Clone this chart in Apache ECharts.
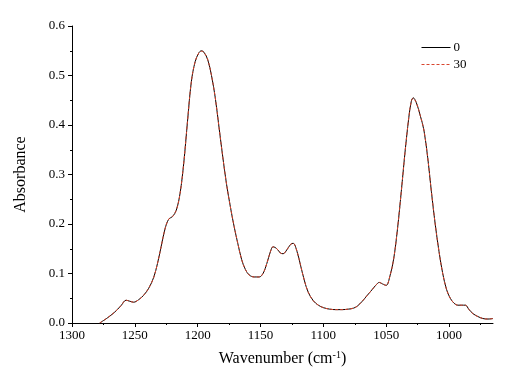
<!DOCTYPE html>
<html>
<head>
<meta charset="utf-8">
<script src="https://cdn.jsdelivr.net/npm/echarts@6/dist/echarts.min.js"></script>
<style>
  html, body { margin: 0; padding: 0; background: #fff; }
  #chart { width: 531px; height: 377px; }
</style>
</head>
<body>
<div id="chart"></div>
<script>
// wavenumber (cm-1)
const wavenumbers = [
  1278, 1272, 1266, 1261, 1257, 1254, 1251, 1247, 1243, 1239,
  1235, 1232, 1229, 1226, 1223, 1220, 1217, 1214, 1211, 1208,
  1205, 1202, 1199, 1197, 1195, 1192, 1189, 1186, 1183, 1180,
  1177, 1174, 1171, 1168, 1165, 1162, 1159, 1155, 1151, 1148,
  1145, 1142, 1140, 1137, 1134, 1132, 1129, 1126, 1124, 1121,
  1118, 1115, 1112, 1108, 1104, 1100, 1095, 1090, 1085, 1080,
  1076, 1073, 1069, 1065, 1061, 1058, 1055.5, 1053, 1050, 1047,
  1044, 1041, 1038, 1035, 1032, 1030, 1028.5, 1026, 1023, 1020,
  1017, 1014, 1011, 1008, 1005, 1002, 999, 996, 993, 990,
  987, 984, 981, 977, 973, 969, 965
];
const abs0 = [
  0.000, 0.010, 0.022, 0.035, 0.046, 0.044, 0.042, 0.047, 0.056, 0.070,
  0.092, 0.120, 0.155, 0.190, 0.210, 0.215, 0.228, 0.262, 0.325, 0.410,
  0.488, 0.528, 0.546, 0.550, 0.547, 0.532, 0.500, 0.455, 0.395, 0.335,
  0.280, 0.235, 0.195, 0.160, 0.128, 0.108, 0.097, 0.093, 0.093, 0.100,
  0.120, 0.145, 0.154, 0.150, 0.141, 0.140, 0.148, 0.159, 0.161, 0.145,
  0.115, 0.085, 0.062, 0.045, 0.036, 0.031, 0.028, 0.027, 0.027, 0.028,
  0.030, 0.034, 0.044, 0.056, 0.068, 0.077, 0.082, 0.079, 0.076, 0.095,
  0.130, 0.190, 0.265, 0.345, 0.415, 0.448, 0.455, 0.445, 0.420, 0.390,
  0.335, 0.265, 0.200, 0.145, 0.100, 0.068, 0.050, 0.040, 0.036, 0.036,
  0.036, 0.027, 0.019, 0.013, 0.009, 0.008, 0.009
];
const abs30 = [
  0.000, 0.010, 0.022, 0.035, 0.046, 0.044, 0.042, 0.047, 0.056, 0.070,
  0.092, 0.120, 0.155, 0.190, 0.210, 0.215, 0.228, 0.262, 0.325, 0.410,
  0.488, 0.528, 0.546, 0.549, 0.547, 0.532, 0.500, 0.455, 0.395, 0.335,
  0.280, 0.235, 0.195, 0.160, 0.128, 0.108, 0.097, 0.093, 0.093, 0.100,
  0.120, 0.145, 0.154, 0.150, 0.141, 0.140, 0.148, 0.159, 0.161, 0.145,
  0.115, 0.085, 0.062, 0.045, 0.036, 0.031, 0.028, 0.027, 0.027, 0.028,
  0.030, 0.034, 0.044, 0.056, 0.068, 0.077, 0.082, 0.079, 0.076, 0.095,
  0.130, 0.190, 0.265, 0.345, 0.415, 0.448, 0.454, 0.445, 0.420, 0.390,
  0.335, 0.265, 0.200, 0.145, 0.100, 0.068, 0.050, 0.040, 0.036, 0.036,
  0.036, 0.027, 0.019, 0.013, 0.009, 0.008, 0.009
];
const seriesNames = ['0', '30'];
const xMajorTicks = [1300, 1250, 1200, 1150, 1100, 1050, 1000];
const xMinorTicks = [1275, 1225, 1175, 1125, 1075, 1025, 975];

const chart = echarts.init(document.getElementById('chart'));
const font = '"Liberation Serif", "Times New Roman", serif';

const option = {
  backgroundColor: '#fff',
  animation: false,
  textStyle: { fontFamily: font },
  grid: { left: 72, right: 38, top: 26, bottom: 54 },
  legend: {
    orient: 'vertical',
    left: 416,
    top: 36,
    itemWidth: 29,
    itemHeight: 13,
    itemGap: 4,
    itemStyle: { opacity: 0 },
    lineStyle: { width: 1 },
    textStyle: { fontFamily: font, fontSize: 13, color: '#000', padding: [0, 0, 0, -2] },
    data: seriesNames
  },
  xAxis: [
    {
      type: 'value',
      min: 965,
      max: 1300,
      inverse: true,
      name: '{a|Wavenumber (cm}{s|-1}{a|)}',
      nameLocation: 'middle',
      nameGap: 27,
      nameTextStyle: {
        rich: {
          a: { fontFamily: font, fontSize: 16, color: '#000' },
          s: { fontFamily: font, fontSize: 10, color: '#000', verticalAlign: 'top', padding: [0, 0, 8, 0] }
        }
      },
      axisLine: { show: true, lineStyle: { color: '#000', width: 1 } },
      axisTick: { show: true, length: 4, customValues: xMajorTicks, lineStyle: { color: '#000' } },
      axisLabel: {
        customValues: xMajorTicks, color: '#000', fontSize: 13, margin: 6, fontFamily: font,
        formatter: v => String(v)
      },
      splitLine: { show: false }
    },
    {
      type: 'value',
      min: 965,
      max: 1300,
      inverse: true,
      position: 'bottom',
      axisLine: { show: false },
      axisTick: { show: true, length: 2, customValues: xMinorTicks, lineStyle: { color: '#000' } },
      axisLabel: { show: false },
      splitLine: { show: false }
    }
  ],
  yAxis: {
    type: 'value',
    min: 0,
    max: 0.6,
    interval: 0.1,
    name: 'Absorbance',
    nameLocation: 'middle',
    nameGap: 43,
    nameTextStyle: { fontFamily: font, fontSize: 16, color: '#000' },
    axisLine: { show: true, lineStyle: { color: '#000', width: 1 } },
    axisTick: { show: true, length: 4, lineStyle: { color: '#000' } },
    minorTick: { show: true, splitNumber: 2, length: 2, lineStyle: { color: '#000' } },
    axisLabel: {
      color: '#000', fontSize: 13, margin: 7, fontFamily: font,
      formatter: v => v.toFixed(1)
    },
    splitLine: { show: false }
  },
  series: [
    {
      name: seriesNames[0],
      type: 'line',
      xAxisIndex: 0,
      data: wavenumbers.map((w, i) => [w, abs0[i]]),
      showSymbol: false,
      symbol: 'none',
      smooth: 0.35,
      lineStyle: { color: '#000', width: 1 },
      itemStyle: { color: '#000' }
    },
    {
      name: seriesNames[1],
      type: 'line',
      xAxisIndex: 0,
      data: wavenumbers.map((w, i) => [w, abs30[i]]),
      showSymbol: false,
      symbol: 'none',
      smooth: 0.35,
      lineStyle: { color: '#d8452e', width: 1, type: [3, 2] },
      itemStyle: { color: '#d8452e' }
    }
  ]
};

chart.setOption(option);
</script>
</body>
</html>
